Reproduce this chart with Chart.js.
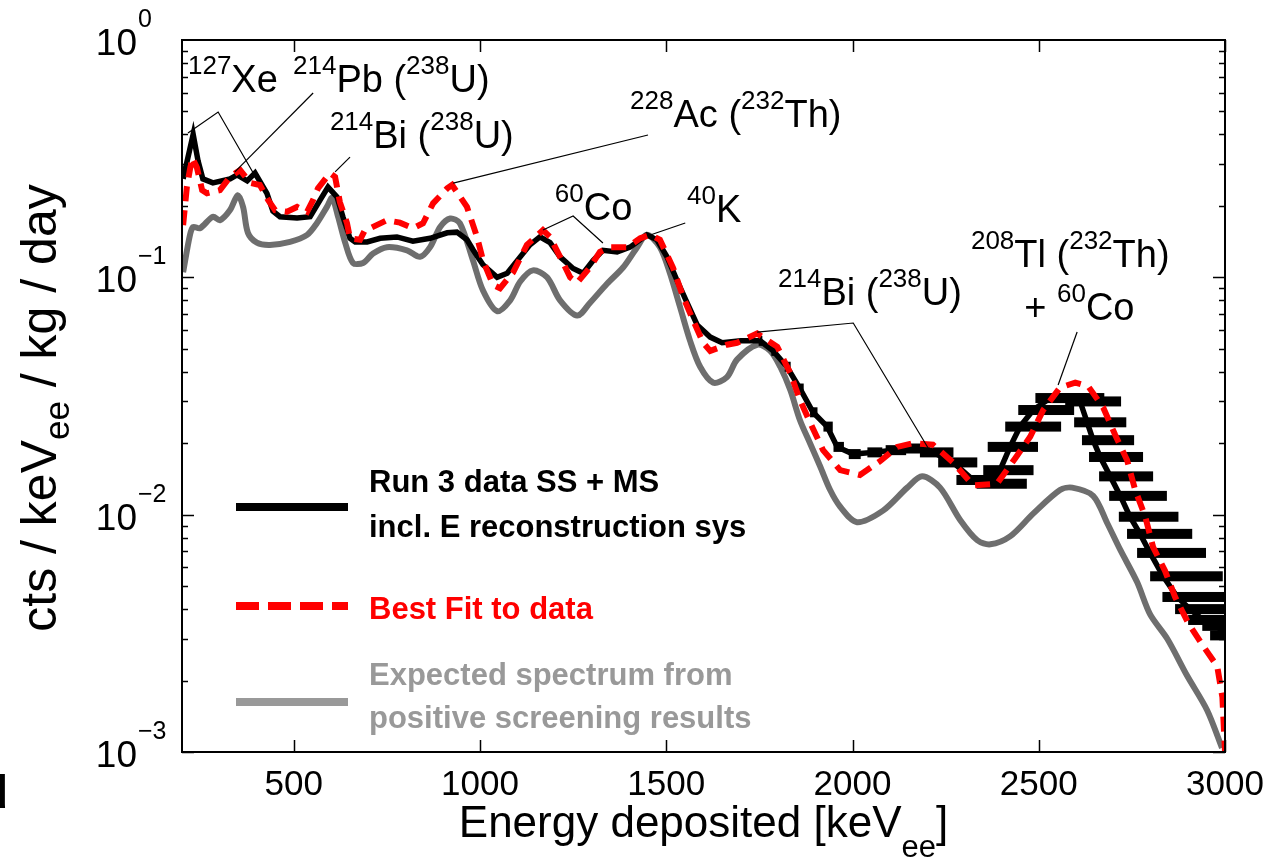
<!DOCTYPE html>
<html>
<head>
<meta charset="utf-8">
<script src="https://cdn.jsdelivr.net/npm/chart.js@4.4.1/dist/chart.umd.min.js"></script>
<style>
  html, body { margin: 0; padding: 0; background: #fff; }
  #wrap { width: 1276px; height: 862px; }
</style>
</head>
<body>
<div id="wrap"><canvas id="spectrum" width="1276" height="862"></canvas></div>
<script>
// Run 3 data SS + MS (keV, cts / keVee / kg / day)
const dataE = [203, 230, 243, 256, 283, 329, 348, 375, 396, 428, 444, 463, 509, 544, 571, 592, 616, 632, 651, 665,
  697, 732, 777, 820, 866, 912, 938, 965, 982, 1008, 1046, 1073, 1108, 1134, 1161, 1188, 1215, 1250, 1277, 1304,
  1330, 1368, 1403, 1448, 1475, 1502, 1529, 1556, 1583, 1618, 1650, 1700, 1752, 1787, 1824, 1859, 1894, 1932, 1959, 2002,
  2055, 2109, 2163, 2216, 2270, 2324, 2378, 2396, 2423, 2450, 2485, 2531, 2576, 2611, 2630, 2646, 2665, 2692, 2719, 2745,
  2772, 2799, 2834, 2872, 2906, 2941, 2979, 3000];
const dataY = [0.26, 0.40, 0.31, 0.26, 0.25, 0.26, 0.27, 0.255, 0.275, 0.226, 0.19, 0.18, 0.178, 0.18, 0.212, 0.24, 0.218, 0.18, 0.146, 0.141,
  0.141, 0.146, 0.148, 0.142, 0.146, 0.154, 0.155, 0.144, 0.13, 0.113, 0.1, 0.104, 0.122, 0.137, 0.148, 0.14, 0.122, 0.109, 0.104, 0.118,
  0.13, 0.128, 0.134, 0.151, 0.144, 0.122, 0.097, 0.078, 0.063, 0.056, 0.053, 0.054, 0.054, 0.049, 0.042, 0.034, 0.027, 0.0235, 0.0193, 0.018,
  0.0183, 0.0187, 0.019, 0.0183, 0.0166, 0.014, 0.0135, 0.0154, 0.0193, 0.0235, 0.0276, 0.031, 0.031, 0.030, 0.0245, 0.0206, 0.0175, 0.0145, 0.012, 0.0098,
  0.0083, 0.0069, 0.0055, 0.0045, 0.004, 0.0036, 0.0034, 0.0031];

// E reconstruction sys: horizontal spread (keV) left / right of the data bins
const sysE = [1752, 1787, 1824, 1859, 1894, 1932, 1959, 2002, 2055, 2109, 2163, 2216, 2270, 2324, 2378, 2396, 2423, 2450,
  2485, 2531, 2576, 2611, 2630, 2646, 2665, 2692, 2719, 2745, 2772, 2799, 2834, 2872, 2906, 2941, 2979, 3000];
const sysLo = [4, 5, 6, 8, 8, 10, 10, 12, 15, 20, 25, 35, 40, 45, 45, 45, 60, 40,
  40, 40, 45, 40, 35, 30, 30, 30, 30, 30, 35, 35, 35, 40, 40, 40, 40, 40];
const sysHi = [6, 8, 10, 10, 12, 15, 18, 20, 25, 35, 45, 55, 65, 75, 90, 90, 75, 110,
  110, 100, 100, 110, 105, 110, 115, 115, 125, 130, 140, 150, 160, 170, 180, 180, 180, 180];

// Best fit to data
const fitE = [203, 213, 227, 240, 254, 267, 302, 329, 356, 383, 409, 431, 450, 482, 509, 536, 552, 565, 597, 611,
  624, 643, 651, 678, 691, 705, 750, 785, 820, 847, 874, 912, 925, 965, 992, 1008, 1035, 1054, 1089, 1126,
  1169, 1188, 1215, 1242, 1261, 1295, 1322, 1349, 1395, 1430, 1457, 1483, 1518, 1545, 1572, 1599, 1618, 1663, 1690, 1744,
  1798, 1833, 1859, 1886, 1921, 1967, 2020, 2074, 2120, 2163, 2216, 2270, 2324, 2388, 2437, 2477, 2512, 2557, 2598, 2633,
  2673, 2705, 2737, 2759, 2786, 2807, 2839, 2866, 2901, 2941, 2979, 2993, 3000];
const fitY = [0.166, 0.24, 0.32, 0.29, 0.233, 0.226, 0.233, 0.265, 0.283, 0.25, 0.245, 0.212, 0.192, 0.189, 0.198, 0.189, 0.212, 0.237, 0.275, 0.265,
  0.207, 0.169, 0.146, 0.144, 0.158, 0.161, 0.174, 0.17, 0.161, 0.169, 0.205, 0.237, 0.245, 0.198, 0.148, 0.118, 0.093, 0.09, 0.105, 0.137,
  0.158, 0.148, 0.122, 0.1, 0.095, 0.11, 0.128, 0.134, 0.134, 0.146, 0.151, 0.144, 0.11, 0.083, 0.066, 0.053, 0.049, 0.052, 0.053, 0.058,
  0.051, 0.0395, 0.0304, 0.0245, 0.0187, 0.0154, 0.0147, 0.0168, 0.0193, 0.020, 0.0197, 0.0166, 0.0133, 0.0135, 0.0173, 0.0213, 0.0276, 0.0343, 0.036, 0.0347,
  0.0283, 0.0217, 0.017, 0.0127, 0.0098, 0.0073, 0.0058, 0.0045, 0.0035, 0.0028, 0.0023, 0.0017, 0.0010];

// Expected spectrum from positive screening results
const expE = [203, 221, 230, 248, 283, 302, 329, 350, 364, 377, 401, 436, 490, 536, 562, 589, 603, 619, 638, 659,
  686, 713, 750, 804, 839, 866, 893, 920, 946, 981, 1008, 1046, 1081, 1108, 1142, 1180, 1215, 1261, 1295, 1341,
  1384, 1422, 1448, 1483, 1510, 1537, 1564, 1591, 1626, 1663, 1690, 1744, 1779, 1806, 1833, 1859, 1886, 1913, 1940, 1967,
  2012, 2082, 2147, 2187, 2235, 2289, 2335, 2370, 2423, 2485, 2557, 2590, 2646, 2684, 2719, 2764, 2799, 2845, 2898, 2952, 2992];
const expY = [0.105, 0.15, 0.163, 0.161, 0.18, 0.174, 0.192, 0.222, 0.198, 0.154, 0.14, 0.137, 0.141, 0.151, 0.169, 0.198, 0.216, 0.18, 0.14, 0.115,
  0.115, 0.126, 0.134, 0.13, 0.122, 0.134, 0.163, 0.177, 0.169, 0.118, 0.088, 0.072, 0.08, 0.096, 0.107, 0.1, 0.08, 0.069, 0.078, 0.094,
  0.11, 0.134, 0.151, 0.134, 0.104, 0.075, 0.054, 0.042, 0.036, 0.038, 0.045, 0.052, 0.049, 0.042, 0.0335, 0.025, 0.020, 0.016, 0.0127, 0.0108,
  0.0093, 0.0104, 0.013, 0.0145, 0.013, 0.0095, 0.0078, 0.0075, 0.0081, 0.0101, 0.0127, 0.013, 0.012, 0.0092, 0.0071, 0.0052, 0.0038, 0.0030, 0.0021, 0.0015, 0.00104];

const xTicks = [500, 1000, 1500, 2000, 2500, 3000];
const yTicks = [1, 0.1, 0.01, 0.001];
const yTickExp = ['0', '\u22121', '\u22122', '\u22123'];

// peak labels: anchor (keV, value), text parts [text, 1 = superscript], leader polyline
const peakLabels = [
  { at: [216, 0.604], parts: [['127', 1], ['Xe', 0]], leader: [[216, 0.406], [297, 0.497], [399, 0.262]] },
  { at: [498, 0.604], parts: [['214', 1], ['Pb (', 0], ['238', 1], ['U)', 0]], leader: [[552, 0.598], [342, 0.278]] },
  { at: [597, 0.351], parts: [['214', 1], ['Bi (', 0], ['238', 1], ['U)', 0]], leader: [[651, 0.321], [611, 0.278]] },
  { at: [1403, 0.430], parts: [['228', 1], ['Ac (', 0], ['232', 1], ['Th)', 0]], leader: [[1451, 0.398], [928, 0.2496]] },
  { at: [1201, 0.1744], parts: [['60', 1], ['Co', 0]], leader: [[1169, 0.1582], [1250, 0.1813], [1330, 0.1395]] },
  { at: [1556, 0.171], parts: [['40', 1], ['K', 0]], leader: [[1551, 0.1694], [1457, 0.1508]] },
  { at: [1800, 0.0764], parts: [['214', 1], ['Bi (', 0], ['238', 1], ['U)', 0]], leader: [[1744, 0.0588], [2002, 0.0642], [2203, 0.0191]] },
  { at: [2318, 0.1105], parts: [['208', 1], ['Tl (', 0], ['232', 1], ['Th)', 0]], leader: null },
  { at: [2461, 0.0661], parts: [['+ ', 0], ['60', 1], ['Co', 0]], leader: [[2603, 0.0588], [2552, 0.0352]] }
];

const legendRows = [
  { lines: ['Run 3 data SS + MS', 'incl. E reconstruction sys'], color: '#000000', dash: [] },
  { lines: ['Best Fit to data'], color: '#ff0000', dash: [23, 9] },
  { lines: ['Expected spectrum from', 'positive screening results'], color: '#999999', dash: [] }
];

const ARIAL = '"Liberation Sans", Arial, sans-serif';

function toPoints(xs, ys) {
  return xs.map((x, i) => ({ x: x, y: ys[i] }));
}

// parts: [text, kind] with kind 0 normal, 1 superscript, -1 subscript
function richText(ctx, x, y, parts, size, small, shift) {
  let cx = x;
  for (const [t, kind] of parts) {
    ctx.font = (kind ? small : size) + 'px ' + ARIAL;
    const dy = kind === 1 ? -shift : (kind === -1 ? shift : 0);
    ctx.fillText(t, cx, y + dy);
    cx += ctx.measureText(t).width;
  }
  return cx - x;
}

function richWidth(ctx, parts, size, small) {
  let w = 0;
  for (const [t, kind] of parts) {
    ctx.font = (kind ? small : size) + 'px ' + ARIAL;
    w += ctx.measureText(t).width;
  }
  return w;
}

const spectrumDecor = {
  id: 'spectrumDecor',
  beforeDatasetDraw(chart, args) {
    if (args.index !== 0) return;
    const ctx = chart.ctx, xs = chart.scales.x, ys = chart.scales.y, a = chart.chartArea;
    ctx.save();
    ctx.beginPath();
    ctx.rect(a.left, a.top, a.right - a.left, a.bottom - a.top);
    ctx.clip();
    ctx.fillStyle = '#000';
    sysE.forEach((e, i) => {
      const k = dataE.indexOf(e);
      const y = ys.getPixelForValue(dataY[k]);
      const x0 = xs.getPixelForValue(e - sysLo[i]);
      const x1 = xs.getPixelForValue(e + sysHi[i]);
      ctx.fillRect(x0, y - 5, x1 - x0, 10);
    });
    ctx.restore();
  },
  afterDraw(chart) {
    const ctx = chart.ctx, xs = chart.scales.x, ys = chart.scales.y, a = chart.chartArea;
    ctx.save();
    ctx.strokeStyle = '#000';
    ctx.fillStyle = '#000';

    // ticks, inward on all four sides
    ctx.lineWidth = 1.5;
    ctx.beginPath();
    xTicks.forEach(t => {
      const x = Math.round(xs.getPixelForValue(t)) + 0.5;
      ctx.moveTo(x, a.bottom); ctx.lineTo(x, a.bottom - 12);
      ctx.moveTo(x, a.top); ctx.lineTo(x, a.top + 12);
    });
    for (let d = -3; d < 0; d++) {
      for (let m = 1; m <= 9; m++) {
        const v = m * Math.pow(10, d);
        const y = Math.round(ys.getPixelForValue(v)) + 0.5;
        const len = m === 1 ? 12 : 6;
        ctx.moveTo(a.left, y); ctx.lineTo(a.left + len, y);
        ctx.moveTo(a.right, y); ctx.lineTo(a.right - len, y);
      }
    }
    ctx.stroke();

    // frame
    ctx.lineWidth = 2;
    ctx.strokeRect(a.left, a.top, a.right - a.left, a.bottom - a.top);

    // y tick labels 10^n
    ctx.textBaseline = 'alphabetic';
    yTicks.forEach((t, i) => {
      const y = ys.getPixelForValue(t);
      ctx.font = '37px ' + ARIAL;
      ctx.textAlign = 'right';
      ctx.fillText('10', a.left - 45, y + 15);
      ctx.font = '25px ' + ARIAL;
      ctx.textAlign = 'left';
      ctx.fillText(yTickExp[i], a.left - 44, y - 13);
    });

    // x tick labels
    ctx.textAlign = 'center';
    ctx.font = '35px ' + ARIAL;
    xTicks.forEach(t => {
      ctx.fillText(String(t), xs.getPixelForValue(t), a.bottom + 43);
    });

    // axis titles
    ctx.textAlign = 'left';
    const xt = [['Energy deposited [keV', 0], ['ee', -1], [']', 0]];
    const xw = richWidth(ctx, xt, 44, 31);
    richText(ctx, (a.left + a.right) / 2 - xw / 2, a.bottom + 85, xt, 44, 31, 20);

    const yt = [['cts / keV', 0], ['ee', -1], [' / kg / day', 0]];
    ctx.save();
    ctx.translate(56, (a.top + a.bottom) / 2 + 12);
    ctx.rotate(-Math.PI / 2);
    const yw = richWidth(ctx, yt, 50, 35);
    richText(ctx, -yw / 2, 0, yt, 50, 35, 13);
    ctx.restore();

    // peak labels with leader lines
    ctx.lineWidth = 1.2;
    peakLabels.forEach(p => {
      richText(ctx, xs.getPixelForValue(p.at[0]), ys.getPixelForValue(p.at[1]), p.parts, 38, 26, 18);
      if (p.leader) {
        ctx.beginPath();
        p.leader.forEach((q, j) => {
          const px = xs.getPixelForValue(q[0]), py = ys.getPixelForValue(q[1]);
          if (j === 0) ctx.moveTo(px, py); else ctx.lineTo(px, py);
        });
        ctx.stroke();
      }
    });

    // legend
    const rowY = [507, 606, 702];
    const textY = [[492, 537], [619], [685, 728]];
    ctx.font = 'bold 31px ' + ARIAL;
    legendRows.forEach((r, i) => {
      ctx.strokeStyle = r.color;
      ctx.fillStyle = r.color;
      ctx.lineWidth = 8;
      ctx.setLineDash(r.dash);
      ctx.beginPath();
      ctx.moveTo(a.left + 54, rowY[i]);
      ctx.lineTo(a.left + 166, rowY[i]);
      ctx.stroke();
      ctx.setLineDash([]);
      r.lines.forEach((s, j) => ctx.fillText(s, a.left + 187, textY[i][j]));
    });

    // cut-off panel letter at the left edge
    ctx.fillStyle = '#000';
    ctx.font = 'bold 46px ' + ARIAL;
    ctx.fillText('d', -20, 808);
    ctx.restore();
  }
};

const ctxSpectrum = document.getElementById('spectrum').getContext('2d');
const spectrumChart = new Chart(ctxSpectrum, {
  type: 'line',
  data: {
    datasets: [
      {
        label: 'Run 3 data SS + MS incl. E reconstruction sys',
        data: toPoints(dataE, dataY),
        borderColor: '#000000',
        borderWidth: 5.5,
        pointRadius: 0,
        tension: 0,
        order: 1,
        clip: 0
      },
      {
        label: 'Best Fit to data',
        data: toPoints(fitE, fitY),
        borderColor: '#ff0000',
        borderWidth: 6,
        borderDash: [15, 9],
        pointRadius: 0,
        tension: 0,
        order: 0,
        clip: 0
      },
      {
        label: 'Expected spectrum from positive screening results',
        data: toPoints(expE, expY),
        borderColor: '#6e6e6e',
        borderWidth: 6,
        pointRadius: 0,
        tension: 0.3,
        order: 2,
        clip: 0
      }
    ]
  },
  options: {
    responsive: false,
    animation: false,
    events: [],
    layout: { padding: { left: 182, right: 51, top: 40, bottom: 110 } },
    plugins: { legend: { display: false }, tooltip: { enabled: false } },
    scales: {
      x: { type: 'linear', display: false, min: 200, max: 3000 },
      y: { type: 'logarithmic', display: false, min: 0.001, max: 1 }
    }
  },
  plugins: [spectrumDecor]
});
</script>
</body>
</html>
